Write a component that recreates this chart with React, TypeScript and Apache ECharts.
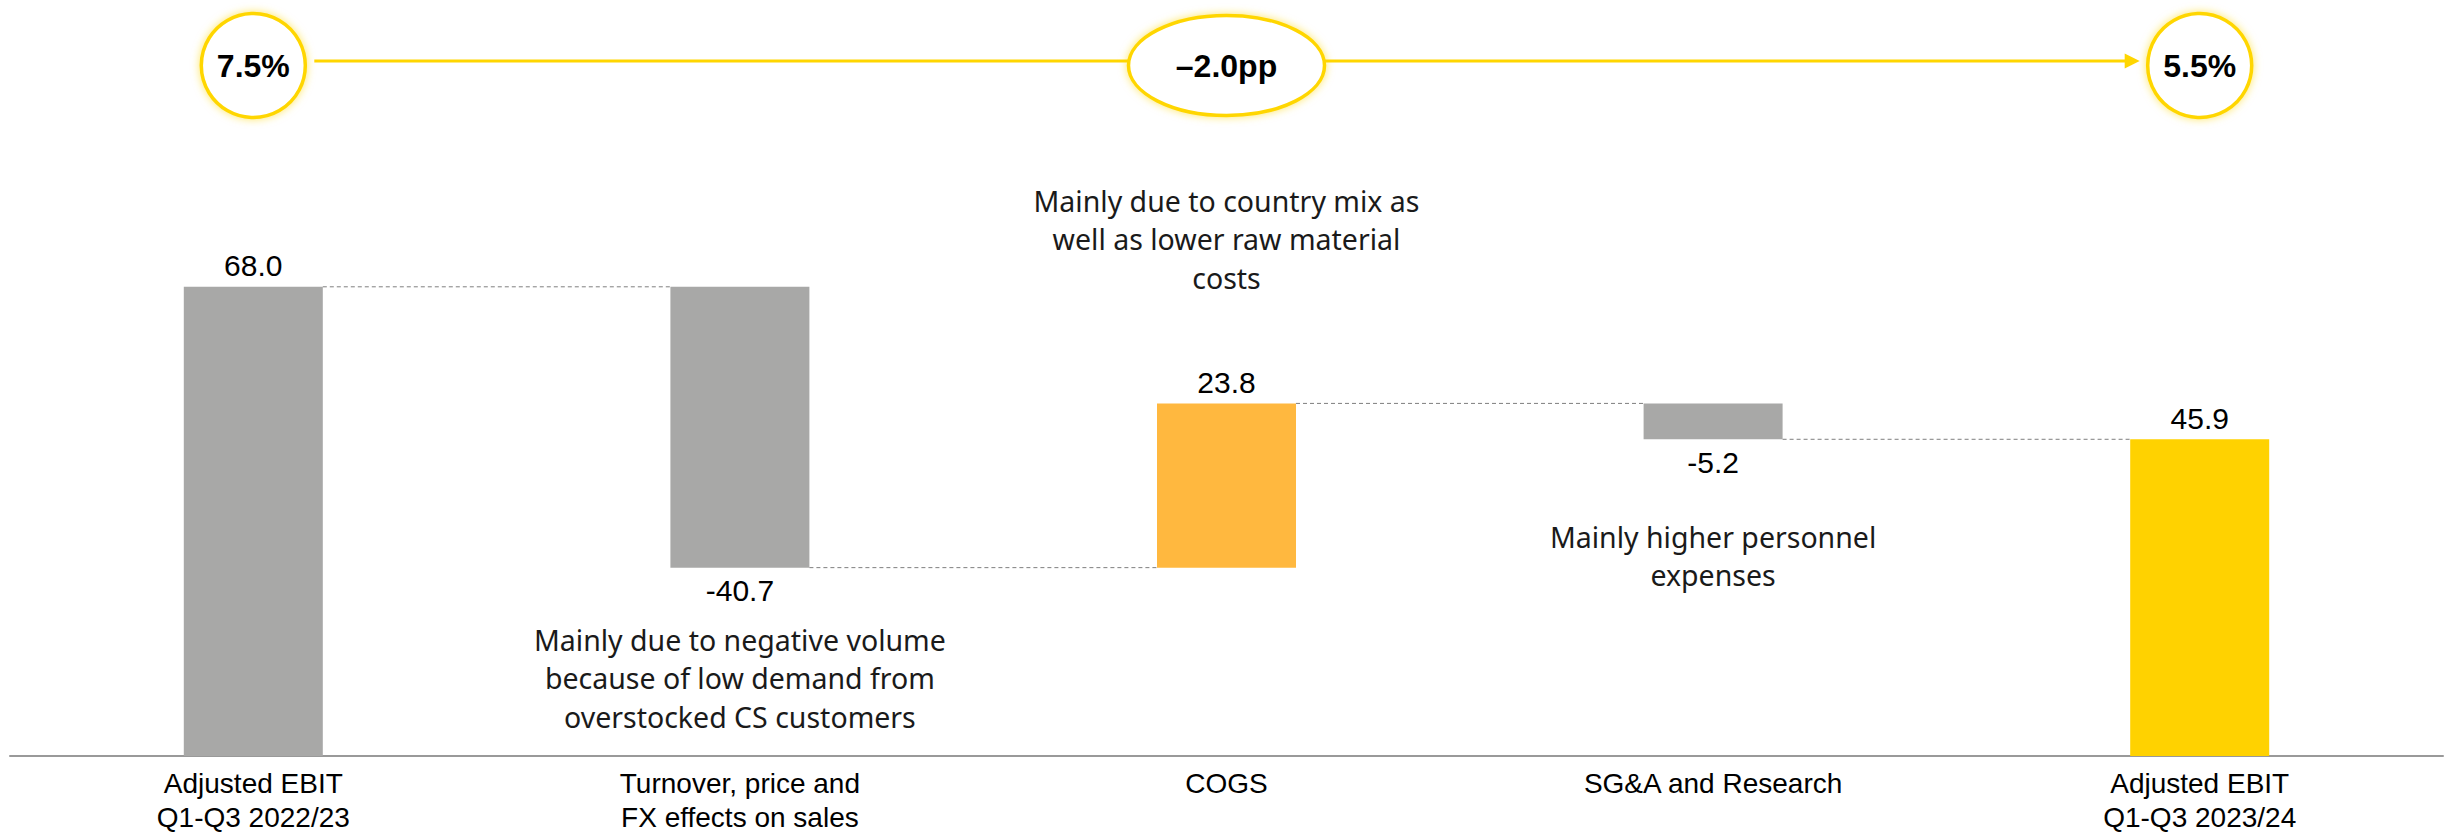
import React, { useEffect, useRef } from "react";
import * as echarts from "echarts";

const categories = [
  "Adjusted EBIT\nQ1-Q3 2022/23",
  "Turnover, price and\nFX effects on sales",
  "COGS",
  "SG&A and Research",
  "Adjusted EBIT\nQ1-Q3 2023/24",
];
const values = [68.0, -40.7, 23.8, -5.2, 45.9];
const isTotal = [true, false, false, false, true];
const barColors = ["#A8A8A7", "#A8A8A7", "#FFB83F", "#A8A8A7", "#FFD200"];
const marginLabels = ["7.5%", "–2.0pp", "5.5%"];
const marginAnchors = [0, 2, 4];
const notes = [
  "Mainly due to negative volume\nbecause of low demand from\noverstocked CS customers",
  "Mainly due to country mix as\nwell as lower raw material\ncosts",
  "Mainly higher personnel\nexpenses",
];
const noteAnchors = [1, 2, 3];

const BAR_W = 139;
const ARIAL = "Arial, 'Liberation Sans', sans-serif";

function buildWaterfall() {
  let run = 0;
  const bases: number[] = [];
  const heights: number[] = [];
  const levels: number[] = [];
  values.forEach((v, i) => {
    if (isTotal[i]) {
      bases.push(0);
      heights.push(v);
      run = v;
    } else if (v >= 0) {
      bases.push(run);
      heights.push(v);
      run += v;
    } else {
      bases.push(run + v);
      heights.push(-v);
      run += v;
    }
    levels.push(run);
  });
  return { bases, heights, levels };
}

export default function App() {
  const ref = useRef<HTMLDivElement>(null);
  useEffect(() => {
    const chart = echarts.init(ref.current!, null, { renderer: "svg" });
    const { bases, heights, levels } = buildWaterfall();
    const connectors = levels.slice(0, levels.length - 1).map((l, i) => [i, l]);

    const option: any = {
      animation: false,
      backgroundColor: "#ffffff",
      grid: { left: 10, right: 7, top: 66, bottom: 76, containLabel: false, outerBoundsMode: "none" },
      xAxis: {
        type: "category",
        data: categories,
        axisLine: { show: true, lineStyle: { color: "#999999", width: 2 } },
        axisTick: { show: false },
        splitLine: { show: false },
        axisLabel: {
          interval: 0,
          margin: 10,
          color: "#000000",
          fontFamily: ARIAL,
          fontSize: 28,
          lineHeight: 34,
        },
      },
      yAxis: { type: "value", min: 0, max: 100, show: false, splitLine: { show: false } },
      series: [
        {
          type: "bar",
          stack: "w",
          barWidth: BAR_W,
          silent: true,
          itemStyle: { color: "transparent" },
          data: bases,
          z: 2,
        },
        {
          type: "bar",
          stack: "w",
          barWidth: BAR_W,
          z: 3,
          data: heights.map((h, i) => ({
            value: h,
            itemStyle: { color: barColors[i] },
            label: {
              show: true,
              position: values[i] < 0 ? "bottom" : "top",
              distance: values[i] < 0 ? 8 : 6,
            },
          })),
          label: {
            show: true,
            color: "#000000",
            fontFamily: ARIAL,
            fontSize: 30,
            formatter: (p: any) => values[p.dataIndex].toFixed(1),
          },
        },
        {
          type: "custom",
          z: 4,
          silent: true,
          data: connectors,
          renderItem: (params: any, api: any) => {
            const i = api.value(0);
            const lvl = api.value(1);
            const p0 = api.coord([i, lvl]);
            const p1 = api.coord([i + 1, lvl]);
            return {
              type: "line",
              shape: { x1: p0[0] + BAR_W / 2, y1: p0[1], x2: p1[0] - BAR_W / 2, y2: p1[1] },
              style: { stroke: "#7F7F7F", lineWidth: 1, lineDash: [4, 3] },
            };
          },
        },
      ],
    };
    chart.setOption(option);

    const px = (i: number) => (chart.convertToPixel({ gridIndex: 0 } as any, [i, 0]) as number[])[0];
    const cx = marginAnchors.map(px);
    const cy = 65.5;
    const lineY = 61;
    const ringColor = "#FFD600";
    const graphic: any[] = [];

    const tip = cx[2] - 60;
    graphic.push({
      type: "line",
      z: 10,
      shape: { x1: cx[0] + 61, y1: lineY, x2: cx[1] - 98, y2: lineY },
      style: { stroke: ringColor, lineWidth: 3 },
    });
    graphic.push({
      type: "line",
      z: 10,
      shape: { x1: cx[1] + 98, y1: lineY, x2: tip - 12, y2: lineY },
      style: { stroke: ringColor, lineWidth: 3 },
    });
    graphic.push({
      type: "polygon",
      z: 10,
      shape: { points: [[tip - 15, lineY - 7.5], [tip, lineY], [tip - 15, lineY + 7.5]] },
      style: { fill: ringColor },
    });

    marginLabels.forEach((t, k) => {
      const shapeEl =
        k === 1
          ? { type: "ellipse", shape: { cx: cx[k], cy, rx: 98, ry: 50 } }
          : { type: "circle", shape: { cx: cx[k], cy, r: 52 } };
      graphic.push({
        ...shapeEl,
        z: 11,
        style: {
          fill: "#ffffff",
          stroke: ringColor,
          lineWidth: 3.5,
          shadowBlur: 8,
          shadowColor: "rgba(255,214,0,0.6)",
        },
      });
      graphic.push({
        type: "text",
        z: 12,
        style: {
          text: t,
          x: cx[k],
          y: cy,
          align: "center",
          verticalAlign: "middle",
          fill: "#000000",
          font: `bold 32px ${ARIAL}`,
        },
      });
    });

    const noteY = [678, 239, 556];
    notes.forEach((t, j) => {
      graphic.push({
        type: "text",
        z: 12,
        style: {
          text: t,
          x: px(noteAnchors[j]),
          y: noteY[j],
          align: "center",
          verticalAlign: "middle",
          fill: "#1a1a1a",
          fontFamily: "'Noto Sans', Arial, sans-serif",
          fontSize: 28.5,
          lineHeight: 38.5,
        },
      });
    });

    chart.setOption({ graphic });
    return () => chart.dispose();
  }, []);

  return (
    <div
      ref={ref}
      style={{ position: "absolute", left: 0, top: 0, width: 2450, height: 832, background: "#fff" }}
    />
  );
}
